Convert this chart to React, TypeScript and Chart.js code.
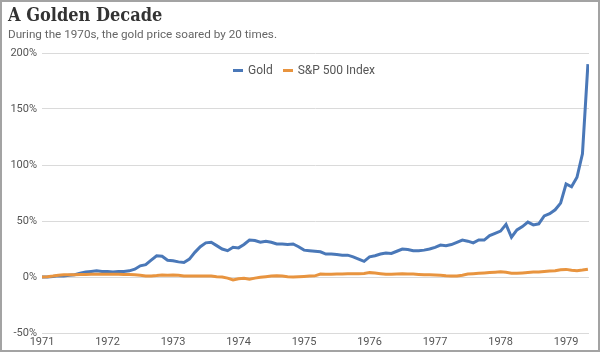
import React, { useEffect, useRef } from "react";
import { Chart, registerables } from "chart.js";

Chart.register(...registerables);

const startYear = 1971;
const seriesNames = ["Gold", "S&P 500 Index"];
const seriesColors = ["#4a78b8", "#e8943f"];

// Monthly % change since Jan 1971 (Jan 1971 .. May 1979)
const goldPct = [
  0, 0, 0.5, 1, 1, 1.5, 2, 3.5, 4.5, 5, 5.5, 5,
  5, 4.5, 5, 5, 5.5, 7, 10, 11, 15, 19, 18.5, 15,
  14.5, 13.5, 13, 16, 22, 27, 30.5, 31, 28, 25, 23.5, 26.5,
  26, 29, 33, 32.5, 31, 32, 31, 29.5, 29.5, 29, 29.5, 27,
  24, 23.5, 23, 22.5, 20.5, 20.5, 20, 19.5, 19.5, 18, 16, 14,
  18, 19, 20.5, 21.5, 21, 23, 25, 24.5, 23.5, 23.5, 24, 25,
  26.5, 28.5, 28, 29, 31, 33, 32, 30.5, 33, 33, 37, 39,
  41, 47, 35.5, 42, 45, 49, 46.5, 47.5, 54.5, 56.5, 60, 66,
  83, 80.5, 89, 110, 190,
];

const spPct = [
  0, 0.3, 0.8, 1.5, 2, 2, 2, 2.2, 2.3, 2.4, 2.4, 2.5,
  2.5, 2.5, 2.4, 2.3, 2.3, 2, 1.5, 1, 1, 1.3, 1.8, 1.5,
  1.8, 1.6, 1, 1, 1, 1, 1, 0.8, 0.3, 0, -1, -2.7,
  -1.5, -1.2, -2, -1, -0.3, 0.3, 0.8, 1.2, 0.8, 0.3, 0, 0.3,
  0.5, 0.8, 1, 2.6, 2.4, 2.4, 2.6, 2.7, 2.8, 3, 3, 3.2,
  3.9, 3.5, 3, 2.5, 2.4, 2.6, 2.8, 2.7, 2.6, 2.3, 2, 2,
  1.8, 1.6, 1.2, 1, 0.9, 1.6, 2.6, 3, 3.3, 3.6, 4, 4.3,
  4.6, 4.2, 3.4, 3.3, 3.6, 4, 4.4, 4.5, 5, 5.3, 5.6, 6.5,
  6.8, 6, 5.6, 6.2, 7,
];

const yearTicks = [1971, 1972, 1973, 1974, 1975, 1976, 1977, 1978, 1979];
const yTicks = [-50, 0, 50, 100, 150, 200];

const toPoints = (arr: number[]) =>
  arr.map((v, i) => ({ x: startYear + i / 12, y: v }));

export default function App() {
  const ref = useRef<HTMLCanvasElement | null>(null);

  useEffect(() => {
    if (!ref.current) return;
    const chart = new Chart(ref.current, {
      type: "line",
      data: {
        datasets: [
          {
            label: seriesNames[0],
            data: toPoints(goldPct),
            borderColor: seriesColors[0],
            backgroundColor: seriesColors[0],
            borderWidth: 3,
            pointRadius: 0,
            tension: 0,
            order: 1,
          },
          {
            label: seriesNames[1],
            data: toPoints(spPct),
            borderColor: seriesColors[1],
            backgroundColor: seriesColors[1],
            borderWidth: 3,
            pointRadius: 0,
            tension: 0,
            order: 0,
          },
        ],
      },
      options: {
        responsive: false,
        animation: false,
        layout: { padding: { top: 51, right: 9, left: 0, bottom: 0 } },
        plugins: {
          legend: { display: false },
          title: { display: false },
          tooltip: { enabled: false },
        },
        scales: {
          x: {
            type: "linear",
            min: 1971,
            max: 1979.35,
            grid: { display: false, drawTicks: false },
            border: { display: false },
            ticks: {
              font: { family: "Roboto", size: 11 },
              color: "#555",
              padding: 3,
              maxRotation: 0,
              autoSkip: false,
              callback: (v: any) => String(v),
            },
            afterBuildTicks: (s: any) => {
              s.ticks = yearTicks.map((v) => ({ value: v }));
            },
            afterFit: (s: any) => {
              s.height = 17;
            },
          },
          y: {
            min: -50,
            max: 200,
            grid: { color: "#dadada", lineWidth: 1, drawTicks: false },
            border: { display: false },
            ticks: {
              font: { family: "Roboto", size: 11 },
              color: "#555",
              padding: 5,
              callback: (v: any) => v + "%",
            },
            afterBuildTicks: (s: any) => {
              s.ticks = yTicks.map((v) => ({ value: v }));
            },
            afterFit: (s: any) => {
              s.width = 40;
            },
          },
        },
      },
    });
    return () => chart.destroy();
  }, []);

  return (
    <div
      style={{
        position: "fixed",
        left: 0,
        top: 0,
        width: 600,
        height: 352,
        boxSizing: "border-box",
        border: "2px solid #a3a3a3",
        background: "#fff",
        overflow: "hidden",
      }}
    >
      <canvas
        ref={ref}
        width={596}
        height={348}
        style={{ position: "absolute", left: 0, top: 0, width: 596, height: 348 }}
      />
      <div
        style={{
          position: "absolute",
          left: 6,
          top: 2,
          fontFamily: "'DejaVu Serif Condensed', 'DejaVu Serif', serif",
          fontWeight: 700,
          fontSize: 18,
          color: "#333",
          whiteSpace: "nowrap",
          lineHeight: "22px",
        }}
      >
        A Golden Decade
      </div>
      <div
        style={{
          position: "absolute",
          left: 6,
          top: 25,
          fontFamily: "Roboto, sans-serif",
          fontSize: 11.7,
          color: "#666",
          whiteSpace: "nowrap",
          lineHeight: "14px",
        }}
      >
        During the 1970s, the gold price soared by 20 times.
      </div>
      <div
        style={{
          position: "absolute",
          left: 231,
          top: 60,
          display: "flex",
          alignItems: "center",
          fontFamily: "Roboto, sans-serif",
          fontSize: 12,
          color: "#555",
          whiteSpace: "nowrap",
          lineHeight: "16px",
        }}
      >
        {seriesNames.map((n, i) => (
          <div key={n} style={{ display: "flex", alignItems: "center", marginRight: 10 }}>
            <span
              style={{
                display: "inline-block",
                width: 10,
                height: 3,
                background: seriesColors[i],
                marginRight: 5,
              }}
            />
            <span>{n}</span>
          </div>
        ))}
      </div>
    </div>
  );
}
